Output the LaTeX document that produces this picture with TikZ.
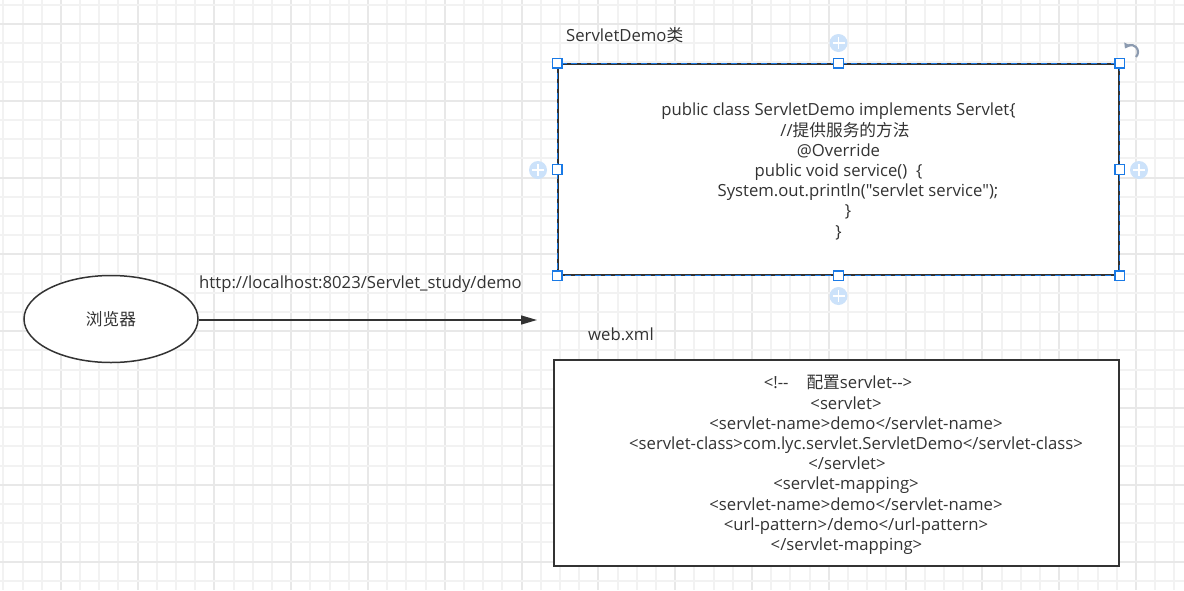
\documentclass[tikz,border=0pt]{standalone}
\usepackage{fontspec}
\newfontfamily\latinfont{Open Sans}
\newfontfamily\cjk{Noto Sans CJK SC}[Scale=1.0]
\usetikzlibrary{arrows.meta,shapes.geometric}
\definecolor{txt}{HTML}{333333}
\definecolor{gminor}{HTML}{F2F2F2}
\definecolor{gmajor}{HTML}{E8E8E8}
\definecolor{selblue}{HTML}{1A7AE6}
\definecolor{plusblue}{HTML}{CCE2FA}
\definecolor{rotgray}{HTML}{8C9BB0}
\tikzset{
  every node/.style={font=\latinfont\fontsize{16.7}{20.2}\selectfont, text=txt},
  box/.style={draw=txt, line width=1.5pt, fill=white},
  codetext/.style={align=center, inner sep=0pt},
  label text/.style={inner sep=0pt},
  handle/.style={draw=selblue, fill=white, line width=1.3pt, minimum size=9.5pt, inner sep=0pt},
  plusdot/.style={circle, fill=plusblue, minimum size=18pt, inner sep=0pt},
  arr/.style={draw=txt, line width=1.4pt, -{Triangle[length=16pt,width=9pt]}},
}
\begin{document}
\begin{tikzpicture}[x=1pt,y=-1pt]
\useasboundingbox (0,0) rectangle (1184,590);
\fill[white] (0,0) rectangle (1184,590);
% grid
\foreach \k in {0,...,61} {
  \pgfmathsetmacro{\gx}{round(3.3+19.2*\k)}
  \pgfmathtruncatemacro{\m}{mod(\k,4)}
  \ifnum\m=3 \draw[gmajor, line width=2pt] (\gx,0) -- (\gx,590);
  \else \draw[gminor, line width=2pt] (\gx,0) -- (\gx,590); \fi
}
\foreach \k in {0,...,30} {
  \pgfmathsetmacro{\gy}{round(4.8+19.2*\k)}
  \pgfmathtruncatemacro{\m}{mod(\k,4)}
  \ifnum\m=1 \draw[gmajor, line width=2pt] (0,\gy) -- (1184,\gy);
  \else \draw[gminor, line width=2pt] (0,\gy) -- (1184,\gy); \fi
}
% browser ellipse
\node[ellipse, draw=txt, line width=1.5pt, fill=white, minimum width=174pt, minimum height=87pt, inner sep=0pt] (br) at (111,319) {\cjk 浏览器};
\coordinate (tip) at (537,320);
\draw[arr] (br.east |- tip) -- (tip);
\node[label text] (url) at (360.5,284) {http://localhost:8023/Servlet\_study/demo};
% top box
\node[box, minimum width=561pt, minimum height=211pt, inner sep=0pt] (cls) at (838.5,169.5) {};
\draw[selblue, line width=1.3pt, dash pattern=on 6pt off 4pt] (cls.north west) rectangle (cls.south east);
\node[codetext] (clstext) at (838.5,171.5) {public class ServletDemo implements Servlet\{\\
\hspace*{13pt}//{\cjk 提供服务的方法}\\
@Override\\
public void service()\ \ \{\\
\hspace*{39pt}System.out.println("servlet service");\\
\hspace*{19pt}\}\\
\}};
\node[label text, anchor=west] (clslabel) at (566,35) {ServletDemo{\cjk 类}};
% selection handles
\foreach \p/\n in {north west/a, north/b, north east/c, west/d, east/e, south west/f, south/g, south east/h} {
  \node[handle] (h\n) at (cls.\p) {};
}
\foreach \pos/\n in {{(838.5,43)}/n, {(538,170)}/w, {(1139,170)}/e, {(838.5,296)}/s} {
  \node[plusdot] (p\n) at \pos {};
  \draw[white, line width=1.6pt] ([xshift=-6pt]p\n.center) -- ([xshift=6pt]p\n.center);
  \draw[white, line width=1.6pt] ([yshift=-6pt]p\n.center) -- ([yshift=6pt]p\n.center);
}
% rotate icon
\coordinate (rot) at (1131,52);
\draw[rotgray, line width=2.2pt, -{Triangle[length=5pt,width=7pt]}] ([shift={(4.95,4.95)}]rot) arc[start angle=45, end angle=-150, radius=7];
% web.xml
\node[label text, anchor=west] (xmllabel) at (588,334) {web.xml};
\node[box, minimum width=565pt, minimum height=206pt, inner sep=0pt] (xml) at (836.5,463) {};
\node[codetext] (xmltext) at (836.5,465) {\hspace*{3pt}<!--\hspace{18pt}{\cjk 配置}servlet-->\\
\hspace*{19pt}<servlet>\\
\hspace*{39pt}<servlet-name>demo</servlet-name>\\
\hspace*{39pt}<servlet-class>com.lyc.servlet.ServletDemo</servlet-class>\\
\hspace*{21pt}</servlet>\\
\hspace*{19pt}<servlet-mapping>\\
\hspace*{39pt}<servlet-name>demo</servlet-name>\\
\hspace*{39pt}<url-pattern>/demo</url-pattern>\\
\hspace*{20pt}</servlet-mapping>};
\end{tikzpicture}
\end{document}
